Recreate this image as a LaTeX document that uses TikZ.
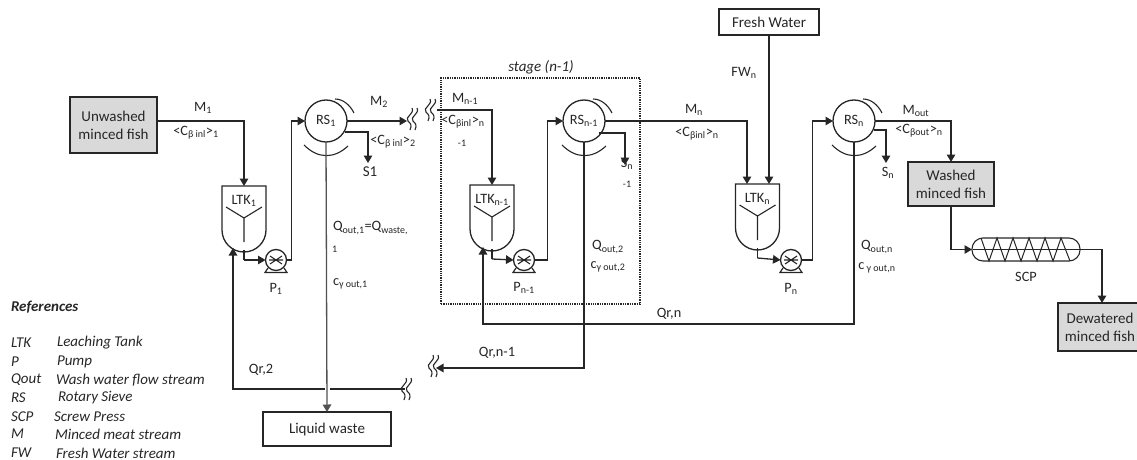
\documentclass[tikz,border=0pt]{standalone}
\usepackage{fontspec}
\setmainfont{Carlito}
\usetikzlibrary{arrows.meta,calc}
\definecolor{boxgray}{HTML}{D9D9D9}
\definecolor{ink}{HTML}{262626}
\tikzset{
  x=1pt,y=-1pt,
  every node/.style={text=ink,font=\fontsize{14.3}{16}\selectfont,inner sep=0pt,outer sep=0pt},
  flow/.style={draw=ink,line width=1.3pt,-{Triangle[length=7.5pt,width=8.5pt]}},
  plainflow/.style={draw=ink,line width=1.3pt},
  graybox/.style={draw=ink,line width=1.4pt,fill=boxgray,align=center,font=\fontsize{15}{18}\selectfont},
  whitebox/.style={draw=ink,line width=1.2pt,fill=white,align=center,font=\fontsize{15}{17}\selectfont},
  sieve/.style={circle,draw=ink,line width=1.3pt,minimum size=42pt},
  pumpc/.style={circle,draw=ink,line width=1.3pt,minimum size=21pt},
  tankbox/.style={minimum width=44pt,minimum height=64pt},
  equip/.style={draw=ink,line width=1.3pt},
  refs/.style={anchor=west,font=\itshape\fontsize{15}{17}\selectfont},
  lbl/.style={anchor=center},
  small/.style={font=\fontsize{10}{11}\selectfont},
}
\newcommand{\tankat}[4]{% name, x-centre, top y, label
  \node[tankbox] (#1) at (#2,#3+32) {};
  \draw[equip] (#2-22,#3) -- (#2+22,#3) -- (#2+22,#3+44) arc[start angle=0,end angle=180,radius=22] -- cycle;
  \draw[equip,line width=1.1pt] (#2-18,#3+21) -- (#2,#3+32) -- (#2+18,#3+21) (#2,#3+32) -- (#2,#3+56);
  \node[lbl] at (#2,#3+14.5) {#4};
}
\newcommand{\pumpat}[3]{% name, x, y
  \draw[equip,line width=1.2pt] (#2-8,#3+8) -- (#2-11,#3+12.5) -- (#2+11,#3+12.5) -- (#2+8,#3+8);
  \node[pumpc,fill=white] (#1) at (#2,#3) {};
  \draw[equip,line width=1.1pt] (#2-6,#3-4) -- (#2+6,#3+4) (#2-6,#3+4) -- (#2+6,#3-4) (#2-7,#3) -- (#2+7,#3);
}
\newcommand{\sieveat}[4]{% name, x, y, label
  \node[sieve] (#1) at (#2,#3) {#4};
  \draw[equip,line width=1.1pt] (#2+9,#3-22) .. controls (#2+17,#3-22) and (#2+24,#3-16) .. (#2+28,#3-8);
  \draw[equip,line width=1.1pt] (#2-22,#3+24) .. controls (#2-8,#3+38) and (#2+8,#3+38) .. (#2+22,#3+25);
}
\newcommand{\breakat}[3]{% name, x, y (centre of the mark)
  \coordinate (#1) at (#2,#3);
  \draw[ink,line width=1.1pt] (#2+1,#3-11) .. controls (#2+4,#3-5) and (#2-7,#3-2) .. (#2-3,#3+2) .. controls (#2,#3+5) and (#2+1,#3+6) .. (#2-1,#3+11)
    (#2+6,#3-11) .. controls (#2+9,#3-5) and (#2-2,#3-2) .. (#2+2,#3+2) .. controls (#2+5,#3+5) and (#2+6,#3+6) .. (#2+4,#3+11);
}
\begin{document}
\begin{tikzpicture}
\useasboundingbox (0,0) rectangle (1137,460);
\clip (0,0) rectangle (1137,460);

% equipment and boxes
\node[graybox,minimum width=87pt,minimum height=56pt] (unw) at (113.5,125) {Unwashed\\minced fish};
\node[graybox,minimum width=86pt,minimum height=44pt] (washed) at (951,184) {Washed\\minced fish};
\node[graybox,minimum width=84pt,minimum height=48pt] (dew) at (1100,327) {Dewatered\\minced fish};
\node[whitebox,minimum width=100pt,minimum height=26pt] (fresh) at (769,22) {Fresh Water};
\node[whitebox,minimum width=128pt,minimum height=34pt] (waste) at (327,429) {Liquid waste};

\tankat{ltk1}{244}{186}{LTK\textsubscript{1}}
\tankat{ltkm}{492}{185}{LTK\textsubscript{n-1}}
\tankat{ltkn}{757.5}{184}{LTK\textsubscript{n}}
\pumpat{p1}{276}{260}
\pumpat{pm}{524}{260}
\pumpat{pn}{791}{260}
\sieveat{rs1}{326}{121}{RS\textsubscript{1}}
\sieveat{rsm}{584}{121}{RS\textsubscript{n-1}}
\sieveat{rsn}{854}{121}{RS\textsubscript{n}}

% screw press
\node[minimum width=108pt,minimum height=23pt] (scp) at (1026,249.5) {};
\draw[equip,line width=1.1pt,rounded corners=11pt] (972,238) rectangle (1080,261);
\draw[equip,line width=.9pt] (972.5,249.5) -- (1079.5,249.5);
\draw[equip,line width=1pt] (981,238) -- (989,261) -- (997,238) -- (1005,261) -- (1013,238) -- (1021,261) -- (1029,238) -- (1037,261) -- (1045,238) -- (1053,261) -- (1061,238) -- (1070,261);

% stage frame
\node[draw=ink,line width=1.3pt,densely dotted,minimum width=199pt,minimum height=226pt] (stage) at (540.5,191) {};
\node[lbl,font=\itshape\fontsize{15}{17}\selectfont] (stagelbl) at (541,67) {stage (n-1)};

% break marks
\breakat{b1a}{411}{119}
\breakat{b1b}{429}{110}
\breakat{b2a}{405}{389}
\breakat{b2b}{432}{366}

% flows, stage 1
\draw[flow] (unw.east |- rs1.west) -| (ltk1.north);
\draw[plainflow] (ltk1.south) -- ++(0,10) coordinate (a1);
\draw[flow] (a1) -- (p1.west);
\draw[flow] (p1.east) -- ++(5,0) |- (rs1.west);
\draw[flow] (rs1.east) -- ++(60,0) coordinate (m2end);
\coordinate (s1end) at (368,163);
\draw[flow] ($(rs1.east)+(-2,11)$) -| (s1end);
% stage n-1
\coordinate (minm) at (437,110);
\draw[flow] (minm) -| (ltkm.north);
\draw[plainflow] (ltkm.south) -- ++(0,10) coordinate (a2);
\draw[flow] (a2) -- (pm.west);
\draw[flow] (pm.east) -- ++(13,0) |- (rsm.west);
\draw[flow] (rsm.east) -| ($(ltkn.north)+(-10.5,0)$);
\coordinate (smend) at (625,165);
\draw[flow] ($(rsm.east)+(-6,12)$) -| (smend);
% stage n
\draw[flow] (fresh.south) -- (ltkn.north -| fresh.south);
\draw[plainflow] (ltkn.south) -- ++(0,10) coordinate (a3);
\draw[flow] (a3) -- (pn.west);
\draw[flow] (pn.east) -- ++(11,0) |- (rsn.west);
\draw[flow] (rsn.east) -| (washed.north);
\coordinate (snend) at (886,163);
\draw[flow] ($(rsn.east)+(-1,9)$) -| (snend);
\draw[flow] (washed.south) |- (scp.west);
\draw[flow] (scp.east) -| (dew.north -| 1102,0);
% recycles
\coordinate (r1) at (854,324);
\draw[flow] (rsn.south) -- (r1) -| ($(ltkm.south)+(-9,-2)$);
\coordinate (r2) at (584,368);
\draw[flow] (rsm.south) -- (r2) -- (436,368);
\coordinate (r3) at (233,389);
\draw[flow] (b2a) -- (r3) -- ($(ltk1.south)+(-11,-2)$);
\draw[white,line width=5pt] (327,383) -- (327,395);
\draw[flow,draw=ink!80] (rs1.south) -- (waste.north);

% labels
\node[lbl] at (203,108) {M\textsubscript{1}};
\node[lbl] at (196,133) {<C\textsubscript{β inl}>\textsubscript{1}};
\node[lbl] at (379,102) {M\textsubscript{2}};
\node[lbl] at (393,142) {<C\textsubscript{β inl}>\textsubscript{2}};
\node[lbl,font=\fontsize{15}{17}\selectfont] at (370,172) {S1};
\node[anchor=west] at (333,228) {Q\textsubscript{out,1}=Q\textsubscript{waste,}};
\node[anchor=west,small] at (332,249) {1};
\node[anchor=west] at (333,284) {c\textsubscript{γ  out,1}};
\node[lbl] at (276,289) {P\textsubscript{1}};
\node[lbl] at (744,73) {FW\textsubscript{n}};
\node[anchor=west] at (452,99) {M\textsubscript{n-1}};
\node[lbl] at (463,122) {<C\textsubscript{βinl}>\textsubscript{n}};
\node[lbl,small] at (462,143) {-1};
\node[lbl] at (627,164) {S\textsubscript{n}};
\node[lbl,small] at (627,184) {-1};
\node[lbl] at (608,247) {Q\textsubscript{out,2}};
\node[lbl] at (608,267) {c\textsubscript{γ out,2}};
\node[lbl] at (524,288) {P\textsubscript{n-1}};
\node[lbl] at (669,314) {Qr,n};
\node[lbl] at (694,110) {M\textsubscript{n}};
\node[lbl] at (697,134) {<C\textsubscript{βinl}>\textsubscript{n}};
\node[lbl] at (916,111) {M\textsubscript{out}};
\node[lbl] at (919,131) {<C\textsubscript{βout}>\textsubscript{n}};
\node[lbl] at (888,173) {S\textsubscript{n}};
\node[lbl] at (877,247) {Q\textsubscript{out,n}};
\node[lbl] at (877,268) {c\textsubscript{ γ out,n}};
\node[lbl] at (791,289) {P\textsubscript{n}};
\node[lbl] at (1026,277) {SCP};
\node[lbl] at (497,353) {Qr,n-1};
\node[lbl] at (261,370) {Qr,2};

% references
\node[refs,font=\bfseries\itshape\fontsize{15}{17}\selectfont] at (11,307) {References};
\node[refs] at (11,343) {LTK};  \node[refs] at (57,343) {Leaching Tank};
\node[refs] at (11,362) {P};    \node[refs] at (57,362) {Pump};
\node[refs] at (11,380) {Qout}; \node[refs] at (56,380) {Wash water flow stream};
\node[refs] at (11,398) {RS};   \node[refs] at (58,398) {Rotary Sieve};
\node[refs] at (11,417) {SCP};  \node[refs] at (54,417) {Screw Press};
\node[refs] at (11,434) {M};    \node[refs] at (55,434) {Minced meat stream};
\node[refs] at (11,453) {FW};   \node[refs] at (56,453) {Fresh Water stream};
\end{tikzpicture}
\end{document}
